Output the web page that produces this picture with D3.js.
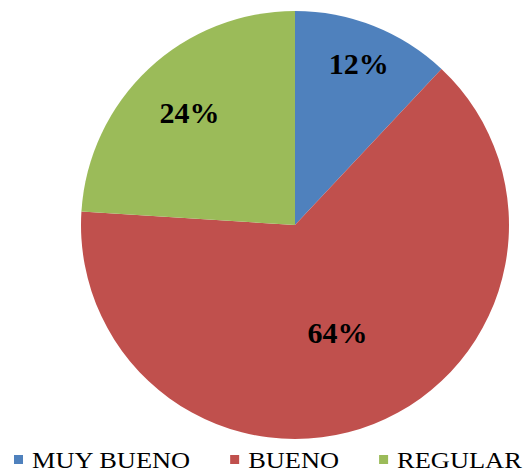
<!DOCTYPE html>
<html>
<head>
<meta charset="utf-8">
<script src="https://cdn.jsdelivr.net/npm/d3@7"></script>
<style>
  body { margin: 0; background: #fff; }
</style>
</head>
<body>
<svg id="chart"></svg>
<script>
// data
const categories = ["MUY BUENO", "BUENO", "REGULAR"];
const values = [12, 64, 24];
const labels = ["12%", "64%", "24%"];
const colors = ["#4F81BD", "#C0504D", "#9BBB59"];

const width = 527, height = 471;
const cx = 295, cy = 225, radius = 214;
// where each label sits, as a fraction of the radius
const labelRadius = [0.81, 0.54, 0.72];

const svg = d3.select("#chart")
  .attr("width", width)
  .attr("height", height);

const pie = d3.pie().sort(null).value(d => d.value);
const data = categories.map((c, i) => ({name: c, value: values[i], label: labels[i], i: i}));
const arcs = pie(data);

const arc = d3.arc().innerRadius(0).outerRadius(radius);

const g = svg.append("g").attr("transform", `translate(${cx},${cy})`);

g.selectAll("path")
  .data(arcs)
  .enter()
  .append("path")
  .attr("d", arc)
  .attr("fill", d => colors[d.data.i]);

g.selectAll("text")
  .data(arcs)
  .enter()
  .append("text")
  .attr("transform", d => {
    const r = radius * labelRadius[d.data.i];
    const c = d3.arc().innerRadius(r).outerRadius(r).centroid(d);
    return `translate(${c[0]},${c[1]})`;
  })
  .attr("text-anchor", "middle")
  .attr("dy", "0.35em")
  .style("font-family", "'Liberation Serif', 'Times New Roman', serif")
  .style("font-weight", "bold")
  .style("font-size", "30px")
  .text(d => d.data.label);

// legend
const legend = svg.append("g").attr("transform", `translate(14, 455)`);
let x = 0;
data.forEach((d, i) => {
  const item = legend.append("g").attr("transform", `translate(${x},0)`);
  item.append("rect")
    .attr("width", 9)
    .attr("height", 9)
    .attr("fill", colors[i]);
  const t = item.append("text")
    .attr("x", 18)
    .attr("y", 12.5)
    .style("font-family", "'Liberation Serif', 'Times New Roman', serif")
    .style("font-size", "24px")
    .text(d.name);
  const w = t.node().getComputedTextLength() * 1.1;
  t.attr("textLength", w).attr("lengthAdjust", "spacingAndGlyphs");
  x += 18 + w + 40;
});
</script>
</body>
</html>
